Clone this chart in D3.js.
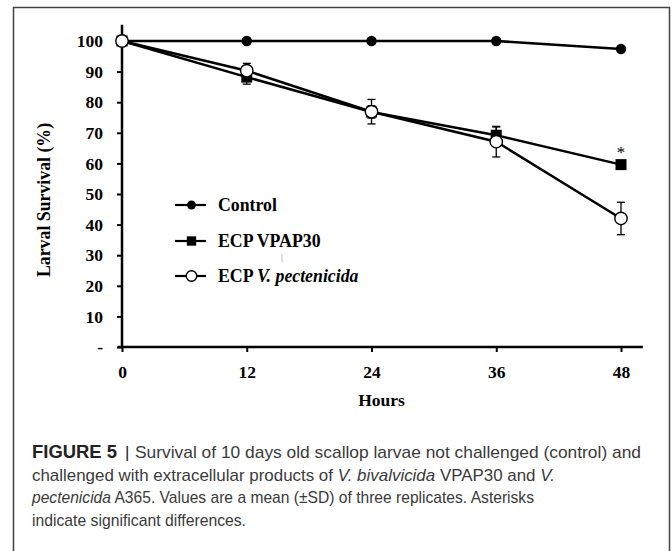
<!DOCTYPE html>
<html><head><meta charset="utf-8">
<script src="https://cdn.jsdelivr.net/npm/d3@7"></script>
<style>html,body{margin:0;padding:0;background:#fff;}svg{display:block;}</style>
</head><body>
<svg id="chart" width="672" height="551"></svg>
<script>
const hours = [0, 12, 24, 36, 48];
const xTicks = [0, 12, 24, 36, 48];
const yTicks = [0, 10, 20, 30, 40, 50, 60, 70, 80, 90, 100];
const yTickLabels = ["-", "10", "20", "30", "40", "50", "60", "70", "80", "90", "100"];
const controlMean = [100, 100, 100, 100, 97.4];
const controlSD = [0, 0, 0, 0, 0.5];
const vpapMean = [100, 88.2, 76.8, 69.2, 59.6];
const vpapSD = [0, 2.3, 2.0, 2.7, 0.8];
const pectMean = [100, 90.3, 76.9, 67.1, 42.0];
const pectSD = [0, 2.4, 4.0, 5.0, 5.3];
const seriesNames = ["Control", "ECP VPAP30", "ECP V. pectenicida"];

const svg = d3.select("#chart");
// outer frame
svg.append("rect").attr("x", 13.5).attr("y", 7.5).attr("width", 656).attr("height", 560)
  .attr("fill", "none").attr("stroke", "#444").attr("stroke-width", 1.5);

const x = d3.scaleLinear().domain([0, 48]).range([122, 621]);
const y = d3.scaleLinear().domain([0, 100]).range([347, 41]);
const serif = "'Liberation Serif','Times New Roman',serif";

// axes lines
svg.append("line").attr("x1", x(0)).attr("x2", x(0)).attr("y1", y(0)).attr("y2", y(105.3))
  .attr("stroke", "#000").attr("stroke-width", 2.5);
svg.append("line").attr("x1", x(-0.4)).attr("x2", x(50.1)).attr("y1", y(0)).attr("y2", y(0))
  .attr("stroke", "#000").attr("stroke-width", 2.5);

const yAxis = d3.axisLeft(y).tickValues(yTicks).tickSize(5).tickPadding(14)
  .tickFormat((d, i) => yTickLabels[i]);
const gy = svg.append("g").attr("transform", `translate(${x(0)},0)`).call(yAxis);
gy.select(".domain").remove();
gy.selectAll(".tick line").attr("stroke", "#000").attr("stroke-width", 2);
gy.selectAll(".tick text").attr("font-family", serif).attr("font-weight", "bold")
  .attr("font-size", 17.5).attr("fill", "#000");

const xAxis = d3.axisBottom(x).tickValues(xTicks).tickSize(5).tickPadding(14).tickFormat(d3.format("d"));
const gx = svg.append("g").attr("transform", `translate(0,${y(0)})`).call(xAxis);
gx.select(".domain").remove();
gx.selectAll(".tick line").attr("stroke", "#000").attr("stroke-width", 2);
gx.selectAll(".tick text").attr("font-family", serif).attr("font-weight", "bold")
  .attr("font-size", 17.5).attr("fill", "#000");

svg.append("text").attr("x", x(24) + 10).attr("y", 406).attr("text-anchor", "middle")
  .attr("font-family", serif).attr("font-weight", "bold").attr("font-size", 17.5).text("Hours");
svg.append("text").attr("transform", "translate(50,200) rotate(-90)").attr("text-anchor", "middle")
  .attr("font-family", serif).attr("font-weight", "bold").attr("font-size", 17.8).text("Larval Survival (%)");

const line = d3.line().x((d, i) => x(hours[i])).y(d => y(d));

function drawErr(mean, sd) {
  const g = svg.append("g");
  mean.forEach((m, i) => {
    if (!sd[i]) return;
    const cx = x(hours[i]);
    g.append("line").attr("x1", cx).attr("x2", cx).attr("y1", y(m - sd[i])).attr("y2", y(m + sd[i]))
      .attr("stroke", "#000").attr("stroke-width", 1.3);
    [m - sd[i], m + sd[i]].forEach(v => g.append("line").attr("x1", cx - 4).attr("x2", cx + 4)
      .attr("y1", y(v)).attr("y2", y(v)).attr("stroke", "#000").attr("stroke-width", 1.3));
  });
}
function drawSeries(mean, sd, type) {
  drawErr(mean, sd);
  svg.append("path").datum(mean).attr("d", line).attr("fill", "none")
    .attr("stroke", "#000").attr("stroke-width", 2.5);
  const g = svg.append("g");
  mean.forEach((m, i) => drawMarker(g, x(hours[i]), y(m), type, 1));
}
function drawMarker(g, cx, cy, type, s) {
  if (type === "circle") g.append("circle").attr("cx", cx).attr("cy", cy).attr("r", 5.2 * s).attr("fill", "#000");
  else if (type === "square") g.append("rect").attr("x", cx - 5.5 * s).attr("y", cy - 5.5 * s)
    .attr("width", 11 * s).attr("height", 11 * s).attr("fill", "#000");
  else g.append("circle").attr("cx", cx).attr("cy", cy).attr("r", 6.2 * s).attr("fill", "#fff")
    .attr("stroke", "#000").attr("stroke-width", 1.4);
}
drawSeries(controlMean, controlSD, "circle");
drawSeries(vpapMean, vpapSD, "square");
drawSeries(pectMean, pectSD, "open");

// asterisk
svg.append("text").attr("x", x(48)).attr("y", y(vpapMean[4]) - 7).attr("text-anchor", "middle")
  .attr("font-family", serif).attr("font-size", 17).attr("fill", "#000").text("*");

// legend
const types = ["circle", "square", "open"];
const legY = [205, 241, 276];
seriesNames.forEach((nm, i) => {
  const g = svg.append("g");
  g.append("line").attr("x1", 175).attr("x2", 206).attr("y1", legY[i]).attr("y2", legY[i])
    .attr("stroke", "#000").attr("stroke-width", 2.2);
  drawMarker(g, 191.5, legY[i], types[i], 0.85);
  const t = g.append("text").attr("x", 218).attr("y", legY[i] + 6)
    .attr("font-family", serif).attr("font-weight", "bold").attr("font-size", 17.8);
  if (i === 2) {
    t.append("tspan").text("ECP ");
    t.append("tspan").attr("font-style", "italic").text("V. pectenicida");
  } else t.text(nm);
});
// faint stray mark
svg.append("line").attr("x1", 282).attr("x2", 282).attr("y1", 254).attr("y2", 262)
  .attr("stroke", "#bbb").attr("stroke-width", 1);

// caption
const sans = "'Liberation Sans Narrow','Liberation Sans',Arial,sans-serif";
const cap = svg.append("g").attr("font-family", sans).attr("font-size", 17).attr("fill", "#3a3a3a");
cap.append("text").attr("x", 32).attr("y", 458).attr("font-family", "'Liberation Sans',Arial,sans-serif")
  .attr("font-weight", "bold").attr("fill", "#222").attr("textLength", 85).attr("lengthAdjust", "spacingAndGlyphs")
  .attr("font-size", 18).text("FIGURE 5");
cap.append("text").attr("x", 125).attr("y", 458).attr("fill", "#222").attr("font-family", "'Liberation Sans',Arial,sans-serif").text("|");
cap.append("text").attr("x", 135).attr("y", 458).attr("textLength", 506).attr("lengthAdjust", "spacingAndGlyphs")
  .text("Survival of 10 days old scallop larvae not challenged (control) and");
const l2 = cap.append("text").attr("x", 32).attr("y", 481).attr("textLength", 523).attr("lengthAdjust", "spacingAndGlyphs");
l2.append("tspan").text("challenged with extracellular products of ");
l2.append("tspan").attr("font-style", "italic").text("V. bivalvicida");
l2.append("tspan").text(" VPAP30 and ");
l2.append("tspan").attr("font-style", "italic").text("V.");
const l3 = cap.append("text").attr("x", 32).attr("y", 503).attr("textLength", 502).attr("lengthAdjust", "spacingAndGlyphs");
l3.append("tspan").attr("font-style", "italic").text("pectenicida");
l3.append("tspan").text(" A365. Values are a mean (\u00B1SD) of three replicates. Asterisks");
cap.append("text").attr("x", 32).attr("y", 526).attr("textLength", 214).attr("lengthAdjust", "spacingAndGlyphs")
  .text("indicate significant differences.");
</script>
</body></html>
